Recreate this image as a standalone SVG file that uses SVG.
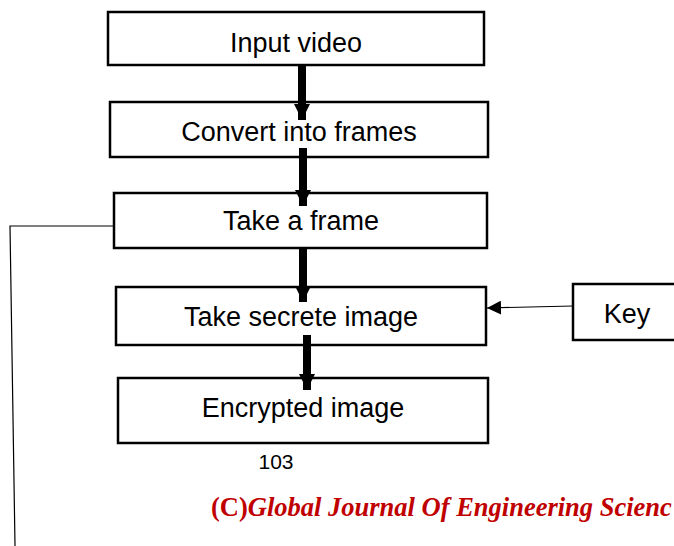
<svg xmlns="http://www.w3.org/2000/svg" width="674" height="546" viewBox="0 0 674 546">
<defs>
<style>
.box{fill:#fff;stroke:#000;stroke-width:2.5}
.lbl{font-family:"Liberation Sans",Arial,sans-serif;font-size:27px;fill:#000;text-anchor:middle}
.thick{stroke:#000;stroke-width:8;fill:none}
.thin{stroke:#000;stroke-width:1.2;fill:none}
.foot{font-family:"Liberation Serif","Times New Roman",serif;font-weight:bold;fill:#c00000;font-size:26.5px}
</style>
<marker id="bighead" viewBox="0 0 10 10" refX="10" refY="5" markerWidth="2" markerHeight="2" orient="auto" markerUnits="strokeWidth">
<path d="M0,0 L10,5 L0,10 z" fill="#000"/>
</marker>
<marker id="smallhead" viewBox="0 0 10 10" refX="10" refY="5" markerWidth="14" markerHeight="14" orient="auto" markerUnits="userSpaceOnUse">
<path d="M0,0 L10,5 L0,10 z" fill="#000"/>
</marker>
</defs>
<g id="n1"><rect class="box" x="108" y="12" width="376" height="53"/><text class="lbl" x="296" y="52">Input video</text></g>
<g id="n2"><rect class="box" x="110" y="102" width="378" height="55"/><text class="lbl" x="299" y="141">Convert into frames</text></g>
<g id="n3"><rect class="box" x="114" y="193" width="373" height="55"/><text class="lbl" x="301" y="230">Take a frame</text></g>
<g id="n4"><rect class="box" x="116" y="287" width="370" height="58"/><text class="lbl" x="301" y="326">Take secrete image</text></g>
<g id="n5"><rect class="box" x="118" y="378" width="370" height="65"/><text class="lbl" x="303" y="417">Encrypted image</text></g>
<g id="key"><rect class="box" x="573" y="284" width="110" height="56"/><text class="lbl" x="627" y="323">Key</text></g>
<g id="connectors">
<line class="thick" x1="302" y1="66" x2="302" y2="120" marker-end="url(#bighead)"/>
<line class="thick" x1="303" y1="148" x2="303" y2="206" marker-end="url(#bighead)"/>
<line class="thick" x1="303" y1="249" x2="303" y2="302" marker-end="url(#bighead)"/>
<line class="thick" x1="307" y1="335" x2="307" y2="390" marker-end="url(#bighead)"/>
<line class="thin" x1="573" y1="306" x2="487" y2="308" marker-end="url(#smallhead)"/>
<polyline class="thin" points="114,226 10,226 15,546"/>
</g>
<text x="276" y="469" font-family="'Liberation Sans',Arial,sans-serif" font-size="21" text-anchor="middle" fill="#000">103</text>
<text class="foot" x="211" y="516">(C)<tspan font-style="italic">Global Journal Of Engineering Scienc</tspan></text>
</svg>
